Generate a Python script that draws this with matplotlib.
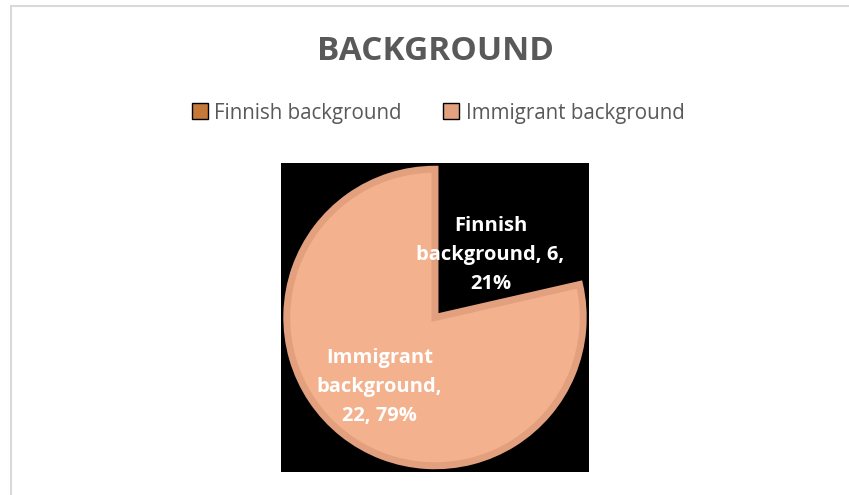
import matplotlib.pyplot as plt
import matplotlib.transforms as mtransforms
from matplotlib.patches import Patch, Rectangle

categories = ['Finnish background', 'Immigrant background']
counts = [6, 22]
legend_colors = ['#C57838', '#E3A27F']
slice_colors = ['#000000', '#F4B18D']
edge_colors = ['#000000', '#E2A07E']

plt.rcParams['font.family'] = ['Open Sans', 'DejaVu Sans']

fig = plt.figure(figsize=(8.49, 4.95), dpi=100)

# chart border like the spreadsheet chart frame
fig.patches.append(Rectangle((11 / 849, -0.1), 1.0, 1.0 + 0.1 - 6 / 495,
                             transform=fig.transFigure, fill=False,
                             edgecolor='#D9D9D9', linewidth=1.5))

fig.text(435 / 849, 1 - 51 / 495, 'BACKGROUND', ha='center', va='center',
         fontsize=24, fontweight='bold', color='#595959')

# plot area (black)
ax = fig.add_axes([281 / 849, (495 - 472) / 495, 308 / 849, 309 / 495])

labels = ['Finnish\nbackground, 6,\n21%', 'Immigrant\nbackground,\n22, 79%']

wedges, texts = ax.pie(counts, labels=labels, startangle=90, counterclock=False,
                       colors=slice_colors, radius=0.975, labeldistance=0.6,
                       wedgeprops=dict(linewidth=5),
                       textprops=dict(color='white', fontsize=14.5, fontweight='bold'))
for w, ec in zip(wedges, edge_colors):
    w.set_edgecolor(ec)
for t in texts:
    t.set_ha('center')
    t.set_va('center')
    t.set_multialignment('center')
    t.set_linespacing(1.6)
# excel puts the small-slice label a bit lower
texts[0].set_transform(mtransforms.offset_copy(texts[0].get_transform(), fig=fig,
                                               x=0, y=-7, units='dots'))

ax.set_frame_on(True)
ax.set_facecolor('black')
for s in ax.spines.values():
    s.set_visible(False)
ax.set_xlim(-1.013, 1.013)
ax.set_ylim(-1.016, 1.016)
ax.set_aspect('auto')

handles = [Patch(facecolor=c, edgecolor='black', linewidth=1.0) for c in legend_colors]
fig.legend(handles, categories, loc='center', bbox_to_anchor=(438 / 849, 1 - 113 / 495),
           ncol=2, frameon=False, fontsize=14.8, labelcolor='#595959',
           handlelength=0.8, handleheight=0.8, handletextpad=0.3, columnspacing=2.0)

fig.savefig('out.png', dpi=100, facecolor='white')
